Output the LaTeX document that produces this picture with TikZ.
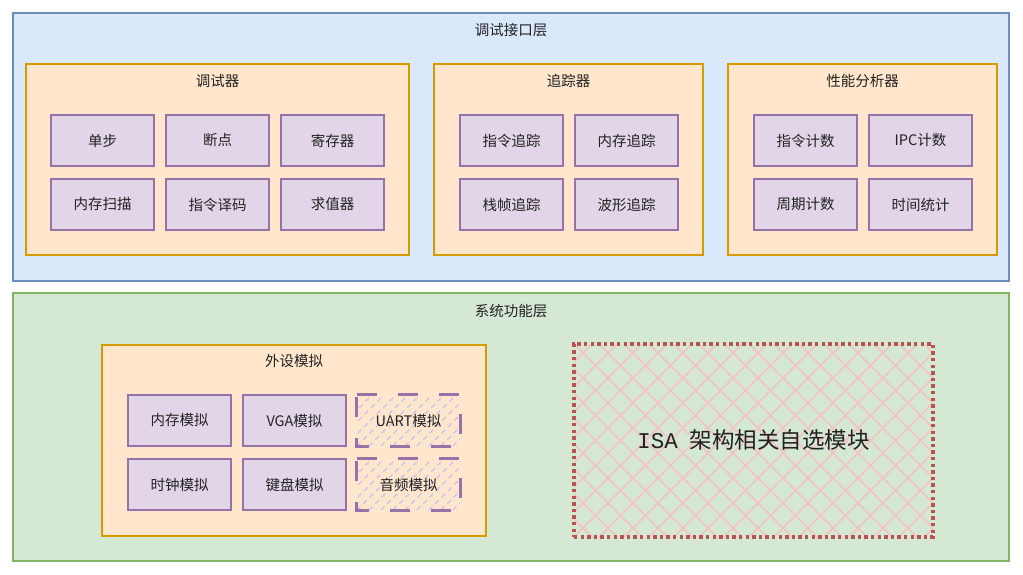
\documentclass[tikz,border=0pt]{standalone}
\usepackage{fontspec}
\setmainfont{Noto Sans CJK SC}
\newfontfamily\monof{Liberation Mono}
\definecolor{blueF}{HTML}{DAE8FC}
\definecolor{blueS}{HTML}{6C8EBF}
\definecolor{greenF}{HTML}{D5E8D4}
\definecolor{greenS}{HTML}{82B366}
\definecolor{orangeF}{HTML}{FFE6CC}
\definecolor{orangeS}{HTML}{D79B00}
\definecolor{purpleF}{HTML}{E1D5E7}
\definecolor{purpleS}{HTML}{9673A6}
\definecolor{redS}{HTML}{B85450}
\definecolor{redH}{HTML}{F5C2C2}
\definecolor{hatchB}{HTML}{BFC4F2}
\definecolor{txt}{HTML}{222222}
\begin{document}
\begin{tikzpicture}[x=1pt,y=-1pt,
  every node/.style={text=txt},
  layer/.style={draw=#1S, fill=#1F, line width=1.3pt, minimum width=996pt, minimum height=268pt, inner sep=0pt},
  group/.style={draw=orangeS, fill=orangeF, line width=1.4pt, minimum height=191pt, inner sep=0pt},
  item/.style={draw=purpleS, fill=purpleF, line width=1.4pt, minimum width=103pt, minimum height=51pt, inner sep=0pt, font=\fontsize{14.5}{16}\selectfont},
  opt/.style={minimum width=103pt, minimum height=51pt, inner sep=0pt, font=\fontsize{14.5}{16}\selectfont},
  optborder/.style={draw=purpleS, line width=2.8pt, dash pattern=on 20pt off 21pt},
  ttl/.style={font=\fontsize{14.5}{16}\selectfont, inner sep=0pt}
]
\useasboundingbox (0,0) rectangle (1023,575);
\fill[white] (0,0) rectangle (1023,575);

% top layer
\node[layer=blue] (top) at (511,147) {};
\node[ttl] (topT) at (511,30) {调试接口层};

\node[group, minimum width=383pt] (dbg) at (217.5,159.5) {};
\node[ttl] (dbgT) at (217.5,81) {调试器};
\node[item] (d1) at (102.5,140.5) {单步};
\node[item] (d2) at (217.5,140.5) {断点};
\node[item] (d3) at (332.5,140.5) {寄存器};
\node[item] (d4) at (102.5,204.5) {内存扫描};
\node[item] (d5) at (217.5,204.5) {指令译码};
\node[item] (d6) at (332.5,204.5) {求值器};

\node[group, minimum width=269pt] (trc) at (568.5,159.5) {};
\node[ttl] (trcT) at (568.5,81) {追踪器};
\node[item] (t1) at (511.5,140.5) {指令追踪};
\node[item] (t2) at (626.5,140.5) {内存追踪};
\node[item] (t3) at (511.5,204.5) {栈帧追踪};
\node[item] (t4) at (626.5,204.5) {波形追踪};

\node[group, minimum width=269pt] (prf) at (862.5,159.5) {};
\node[ttl] (prfT) at (862.5,81) {性能分析器};
\node[item] (p1) at (805.5,140.5) {指令计数};
\node[item] (p2) at (920.5,140.5) {IPC计数};
\node[item] (p3) at (805.5,204.5) {周期计数};
\node[item] (p4) at (920.5,204.5) {时间统计};

% bottom layer
\node[layer=green] (bot) at (511,427) {};
\node[ttl] (botT) at (511,311) {系统功能层};

\node[group, minimum width=384pt] (per) at (294,440.5) {};
\node[ttl] (perT) at (294,361) {外设模拟};
\node[item] (e1) at (179.5,420.5) {内存模拟};
\node[item] (e2) at (294.5,420.5) {VGA模拟};
\node[item] (e4) at (179.5,484.5) {时钟模拟};
\node[item] (e5) at (294.5,484.5) {键盘模拟};

% hatch for optional boxes
\foreach \cy in {420.5,484.5}{
  \begin{scope}
    \clip (357,\cy-25.5) rectangle (460,\cy+25.5);
    \foreach \k in {-60,-48,...,120}{
      \draw[hatchB, line width=1.3pt, dash pattern=on 5pt off 4pt] (357+\k,\cy+25.5) -- ++(60,-60);
    }
  \end{scope}
}
\node[opt] (e3) at (408.5,420.5) {UART模拟};
\node[opt] (e6) at (408.5,484.5) {音频模拟};
\foreach \n in {e3,e6}{
  \draw[optborder] (\n.north west) -- (\n.north east) -- (\n.south east) -- (\n.south west) -- cycle;
}

% ISA box
\begin{scope}
  \clip (574,344) rectangle (933,537);
  \foreach \k in {-200,-175,...,400}{
    \draw[redH, line width=1.5pt] (574+\k,537) -- ++(200,-200);
    \draw[redH, line width=1.5pt] (574+\k,344) -- ++(200,200);
  }
\end{scope}
\node[draw=redS, line width=3.6pt, dash pattern=on 3.4pt off 3.2pt, minimum width=359pt, minimum height=193pt, inner sep=0pt] (isa) at (753.5,440.5) {};
\node[font=\fontsize{22.5}{24}\selectfont, inner sep=0pt] (isaT) at (753.5,440) {{\monof ISA}\hspace{12pt}架构相关自选模块};
\end{tikzpicture}
\end{document}
